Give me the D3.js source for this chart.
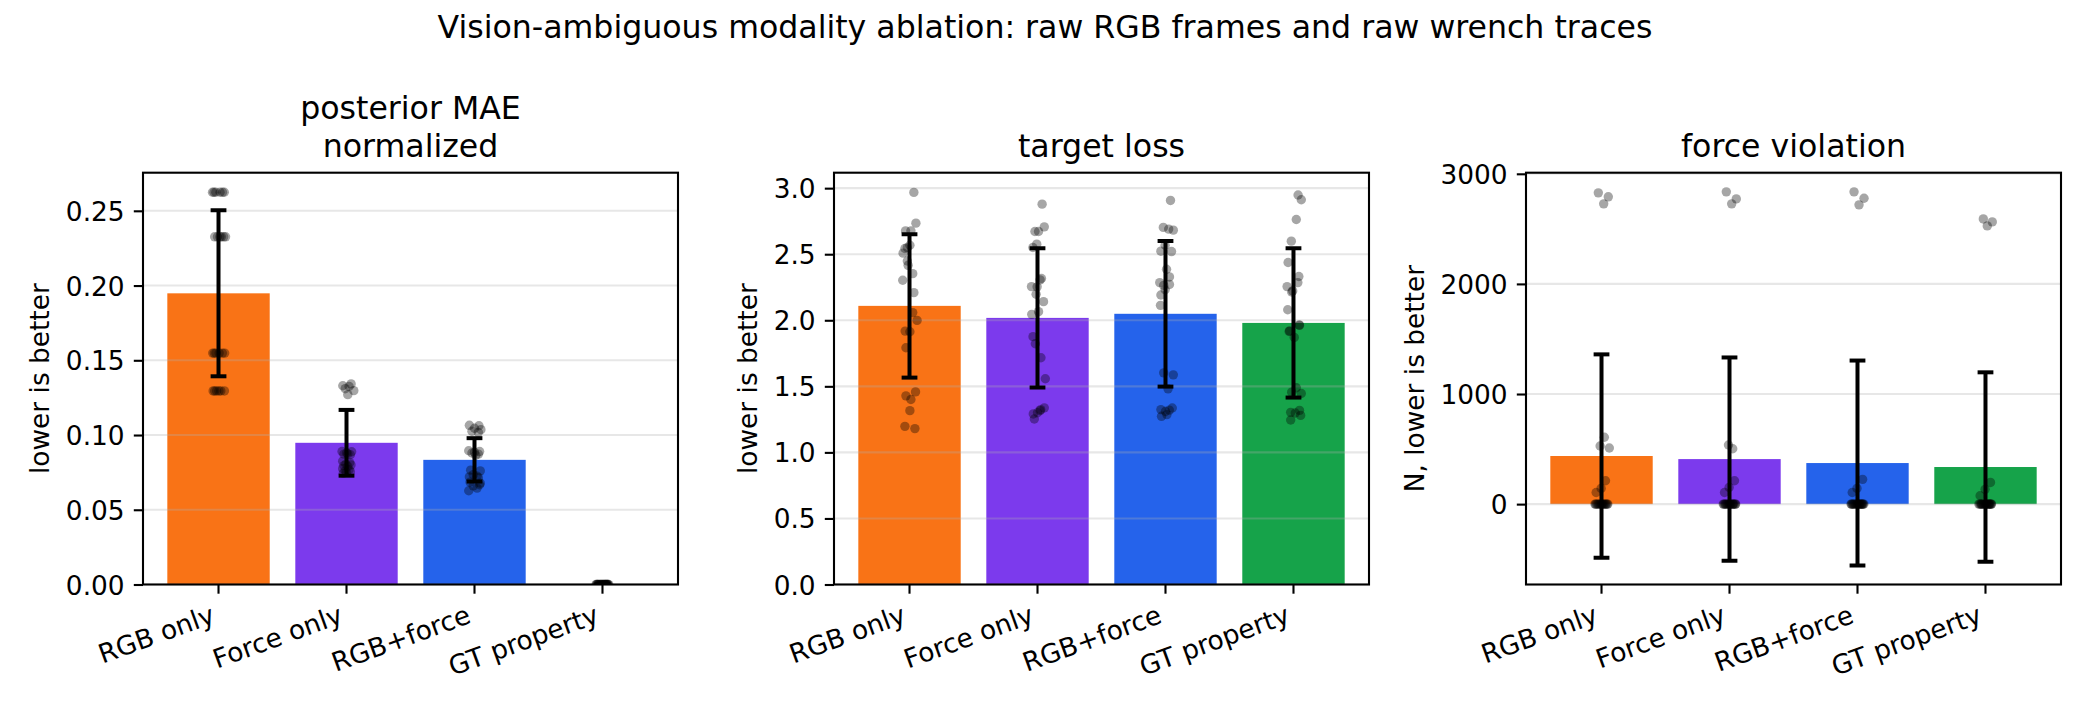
<!DOCTYPE html>
<html><head><meta charset="utf-8">
<script src="https://cdn.jsdelivr.net/npm/d3@7"></script>
<style>body{margin:0;background:#fff} text{font-family:"DejaVu Sans",sans-serif;fill:#000}</style>
</head><body><svg id="c" width="2090" height="703"></svg>
<script>
// ---------------- data ----------------
const categories = ["RGB only", "Force only", "RGB+force", "GT property"];
const barColors = ["#f97316", "#7c3aed", "#2563eb", "#16a34a"];
const suptitle = "Vision-ambiguous modality ablation: raw RGB frames and raw wrench traces";

// panel 1: posterior MAE normalized
const maeMean = [0.1948, 0.0948, 0.0834, 0.0];
const maeSd = [0.0555, 0.0220, 0.0145, 0.0];
const maeTicks = [0, 0.05, 0.10, 0.15, 0.20, 0.25];
const maePoints = [
  [[-0.047,0.2624],[-0.021,0.2624],[-0.035,0.2624],[0.012,0.2624],[0.031,0.2624],[0.045,0.2624],
   [-0.030,0.2326],[-0.008,0.2326],[0.022,0.2326],[0.055,0.2326],[0.010,0.2326],[0.040,0.2326],
   [-0.045,0.1548],[-0.020,0.1548],[0.005,0.1548],[0.030,0.1548],[0.048,0.1548],[-0.033,0.1548],
   [-0.042,0.1295],[-0.015,0.1295],[0.018,0.1295],[0.046,0.1295],[0.003,0.1295],[-0.030,0.1295]],
  [[-0.029,0.1330],[0.036,0.1342],[0.057,0.1297],[0.010,0.1270],[0.020,0.1325],[-0.010,0.1310],
   [-0.035,0.0890],[0.040,0.0888],[0.000,0.0880],[-0.020,0.0872],[0.030,0.0868],[0.010,0.0875],
   [-0.030,0.0825],[0.025,0.0815],[-0.005,0.0805],[0.035,0.0800],[-0.020,0.0795],[0.010,0.0790],
   [-0.030,0.0775],[0.020,0.0768],[-0.010,0.0760],[0.030,0.0755],[0.000,0.0750],[-0.025,0.0745]],
  [[-0.040,0.1065],[0.035,0.1062],[0.000,0.1045],[0.050,0.1036],[-0.020,0.1025],[0.030,0.1018],
   [-0.045,0.0895],[0.040,0.0890],[0.000,0.0885],[-0.020,0.0880],[0.030,0.0872],[0.010,0.0865],
   [-0.030,0.0765],[0.045,0.0760],[-0.010,0.0735],[0.020,0.0725],[-0.040,0.0720],[0.030,0.0715],
   [-0.035,0.0685],[0.045,0.0678],[0.040,0.0667],[-0.010,0.0660],[0.020,0.0645],[-0.045,0.0627]],
  [[-0.046,0],[0.031,0],[-0.012,0],[0.044,0],[-0.029,0],[0.007,0],[0.022,0],[-0.038,0],
   [0.049,0],[-0.004,0],[0.015,0],[-0.051,0],[0.036,0],[-0.021,0],[0.002,0],[0.027,0],
   [-0.033,0],[0.041,0],[-0.017,0],[0.011,0],[-0.042,0],[0.033,0],[-0.008,0],[0.019,0]]
];

// panel 2: target loss
const lossMean = [2.109, 2.018, 2.049, 1.980];
const lossSd = [0.543, 0.527, 0.551, 0.565];
const lossTicks = [0, 0.5, 1.0, 1.5, 2.0, 2.5, 3.0];
const lossPoints = [
  [[0.034,2.968],[0.050,2.735],[-0.031,2.677],[0.011,2.677],[0.003,2.568],[-0.036,2.543],
   [-0.050,2.508],[-0.017,2.449],[-0.011,2.416],[0.025,2.353],[-0.053,2.303],[0.034,2.209],
   [0.025,2.058],[0.059,1.999],[-0.034,1.918],[0.003,1.913],[-0.028,1.792],[0.047,1.458],
   [-0.028,1.428],[0.011,1.400],[0.003,1.316],[-0.036,1.197],[0.042,1.180],[-0.017,2.550]],
  [[0.036,2.879],[0.053,2.707],[-0.020,2.672],[0.008,2.672],[-0.006,2.576],[-0.036,2.551],
   [0.031,2.316],[0.020,2.306],[-0.047,2.255],[-0.003,2.253],[-0.011,2.197],[0.047,2.141],
   [0.008,2.065],[-0.045,2.045],[-0.035,1.876],[-0.017,1.822],[0.027,1.716],[0.061,1.557],
   [0.053,1.337],[0.020,1.316],[-0.033,1.291],[-0.025,1.253],[0.025,1.324],[0.000,1.300]],
  [[0.039,2.907],[-0.017,2.703],[0.025,2.690],[0.061,2.682],[-0.003,2.568],[-0.036,2.523],
   [0.047,2.520],[0.008,2.386],[0.031,2.328],[-0.045,2.285],[0.031,2.271],[-0.014,2.264],
   [-0.003,2.231],[-0.036,2.191],[-0.039,2.113],[-0.014,1.602],[0.061,1.587],[0.020,1.481],
   [-0.036,1.324],[0.053,1.336],[-0.031,1.273],[0.011,1.286],[0.000,1.310],[0.030,1.320]],
  [[0.036,2.948],[0.061,2.912],[0.022,2.763],[-0.017,2.599],[-0.042,2.437],[0.042,2.331],
   [0.034,2.285],[-0.050,2.255],[-0.006,2.222],[-0.014,2.214],[-0.045,2.080],[0.047,1.961],
   [-0.034,1.915],[0.006,1.870],[0.022,1.489],[-0.014,1.456],[0.061,1.446],[-0.022,1.303],
   [0.047,1.318],[0.014,1.298],[0.056,1.280],[-0.022,1.245],[0.045,1.965],[-0.030,1.920]]
];

// panel 3: force violation
const forceMean = [437, 409, 373, 337];
const forceSd = [923, 923, 931, 860];
const forceTicks = [0, 1000, 2000, 3000];
const forcePoints = [
  [[-0.025,2827],[0.053,2791],[0.017,2727],[0.022,607],[-0.011,528],[0.061,510],[0.031,212],[-0.003,143],[-0.042,106],
   [-0.046,0],[0.031,0],[-0.012,0],[0.044,0],[-0.029,0],[0.007,0],[0.022,0],[-0.038,0],[0.049,0],[-0.004,0],[0.015,0],[-0.051,0],[0.036,0],[-0.021,0],[0.002,0]],
  [[-0.025,2836],[0.053,2772],[0.017,2727],[-0.008,537],[0.025,503],[0.039,212],[-0.003,152],[-0.039,106],
   [-0.044,0],[0.029,0],[-0.015,0],[0.046,0],[-0.031,0],[0.005,0],[0.024,0],[-0.036,0],[0.048,0],[-0.006,0],[0.013,0],[-0.049,0],[0.038,0],[-0.023,0],[0.001,0],[0.028,0]],
  [[-0.027,2836],[0.051,2778],[0.012,2718],[0.040,225],[-0.004,143],[-0.041,106],
   [-0.047,0],[0.033,0],[-0.010,0],[0.042,0],[-0.027,0],[0.009,0],[0.020,0],[-0.040,0],[0.050,0],[-0.002,0],[0.017,0],[-0.050,0],[0.034,0],[-0.019,0],[0.004,0],[0.026,0],[-0.034,0],[0.043,0]],
  [[-0.017,2590],[0.053,2563],[0.014,2527],[0.039,197],[-0.003,134],[-0.042,76],
   [-0.045,0],[0.030,0],[-0.013,0],[0.045,0],[-0.028,0],[0.006,0],[0.023,0],[-0.037,0],[0.047,0],[-0.005,0],[0.016,0],[-0.052,0],[0.035,0],[-0.020,0],[0.003,0],[0.028,0],[-0.032,0],[0.040,0]]
];

// ---------------- layout / style ----------------
const svg = d3.select("#c");
svg.append("rect").attr("width", 2090).attr("height", 703).attr("fill", "#fff");

const TOP = 172.7, BOTTOM = 584.5, W = 535;
const FS = 26.4, TFS = 31.6, LW = 2.1, TICK = 9.2, PAD = 9.2;

const panels = [
  {left: 143, title: ["posterior MAE", "normalized"], ylabel: "lower is better", domain: [0, 0.2755], ticks: maeTicks, fmt: d3.format(".2f"), mean: maeMean, sd: maeSd, pts: maePoints},
  {left: 834, title: ["target loss"], ylabel: "lower is better", domain: [0, 3.117], ticks: lossTicks, fmt: d3.format(".1f"), mean: lossMean, sd: lossSd, pts: lossPoints},
  {left: 1526, title: ["force violation"], ylabel: "N, lower is better", domain: [-730, 3010], ticks: forceTicks, fmt: d3.format("d"), mean: forceMean, sd: forceSd, pts: forcePoints}
];

svg.append("text").attr("x", 1045).attr("y", 38).attr("text-anchor", "middle")
  .style("font-size", TFS + "px").text(suptitle);

panels.forEach((p, pi) => {
  const x = d3.scaleBand().domain(categories).range([p.left, p.left + W]).paddingInner(0.2).paddingOuter(0.19);
  const step = x.step();
  const y = d3.scaleLinear().domain(p.domain).range([BOTTOM, TOP]);
  const g = svg.append("g");
  const cid = "clip" + pi;
  svg.append("clipPath").attr("id", cid).append("rect")
    .attr("x", p.left).attr("y", TOP).attr("width", W).attr("height", BOTTOM - TOP);
  const plot = g.append("g").attr("clip-path", `url(#${cid})`);

  // bars
  plot.selectAll("rect.bar").data(categories).join("rect").attr("class", "bar")
    .attr("x", d => x(d)).attr("width", x.bandwidth())
    .attr("y", (d, i) => Math.min(y(p.mean[i]), y(0)))
    .attr("height", (d, i) => Math.abs(y(0) - y(p.mean[i])))
    .attr("fill", (d, i) => barColors[i]);

  // grid (above bars like matplotlib)
  plot.selectAll("line.grid").data(p.ticks).join("line").attr("class", "grid")
    .attr("x1", p.left).attr("x2", p.left + W).attr("y1", d => y(d)).attr("y2", d => y(d))
    .attr("stroke", "#b0b0b0").attr("stroke-opacity", 0.3).attr("stroke-width", LW);

  // error bars
  const cap = 7.9;
  categories.forEach((c, i) => {
    const cx = x(c) + x.bandwidth() / 2;
    const lo = y(p.mean[i] - p.sd[i]), hi = y(p.mean[i] + p.sd[i]);
    const eg = plot.append("g").attr("stroke", "#000").attr("stroke-width", 4);
    eg.append("line").attr("x1", cx).attr("x2", cx).attr("y1", lo).attr("y2", hi);
    eg.append("line").attr("x1", cx - cap).attr("x2", cx + cap).attr("y1", lo).attr("y2", lo);
    eg.append("line").attr("x1", cx - cap).attr("x2", cx + cap).attr("y1", hi).attr("y2", hi);
  });

  // points
  categories.forEach((c, i) => {
    const cx = x(c) + x.bandwidth() / 2;
    plot.append("g").selectAll("circle").data(p.pts[i]).join("circle")
      .attr("cx", d => cx + d[0] * step).attr("cy", d => y(d[1])).attr("r", 4.7)
      .attr("fill", "#000").attr("fill-opacity", 0.35);
  });

  // frame
  g.append("rect").attr("x", p.left).attr("y", TOP).attr("width", W).attr("height", BOTTOM - TOP)
    .attr("fill", "none").attr("stroke", "#000").attr("stroke-width", LW);

  // y axis
  const ya = g.append("g").attr("transform", `translate(${p.left},0)`)
    .call(d3.axisLeft(y).tickValues(p.ticks).tickFormat(p.fmt).tickSize(TICK).tickPadding(PAD));
  ya.select(".domain").remove();
  ya.selectAll(".tick line").attr("stroke", "#000").attr("stroke-width", LW);
  ya.selectAll(".tick text").style("font-size", FS + "px").style("font-family", '"DejaVu Sans", sans-serif')
    .attr("dy", "0.36em").attr("fill", "#000");

  // x axis
  const xa = g.append("g").attr("transform", `translate(0,${BOTTOM})`)
    .call(d3.axisBottom(x).tickSize(TICK).tickPadding(PAD));
  xa.select(".domain").remove();
  xa.selectAll(".tick line").attr("stroke", "#000").attr("stroke-width", LW);
  const sin = Math.sin(20 * Math.PI / 180), cos = Math.cos(20 * Math.PI / 180);
  const px = -0.236 * FS * sin, py = TICK + PAD + 0.78 * FS * cos;
  xa.selectAll(".tick text").style("font-size", FS + "px").style("font-family", '"DejaVu Sans", sans-serif')
    .attr("fill", "#000").attr("text-anchor", "end").attr("dy", null)
    .attr("x", px).attr("y", py).attr("transform", `rotate(-20,${px},${py})`);

  // y label
  let minLeft = Infinity;
  ya.selectAll(".tick text").each(function () { const b = this.getBBox(); minLeft = Math.min(minLeft, p.left + b.x); });
  const bx = minLeft - 10.5 - 0.236 * FS;
  g.append("text").attr("transform", `translate(${bx},${(TOP + BOTTOM) / 2}) rotate(-90)`)
    .attr("text-anchor", "middle").style("font-size", FS + "px").text(p.ylabel);

  // title
  const tcx = p.left + W / 2;
  const n = p.title.length;
  p.title.forEach((t, k) => {
    g.append("text").attr("x", tcx).attr("y", TOP - 15.8 - (n - 1 - k) * 37.9)
      .attr("text-anchor", "middle").style("font-size", TFS + "px").text(t);
  });
});
</script></body></html>
